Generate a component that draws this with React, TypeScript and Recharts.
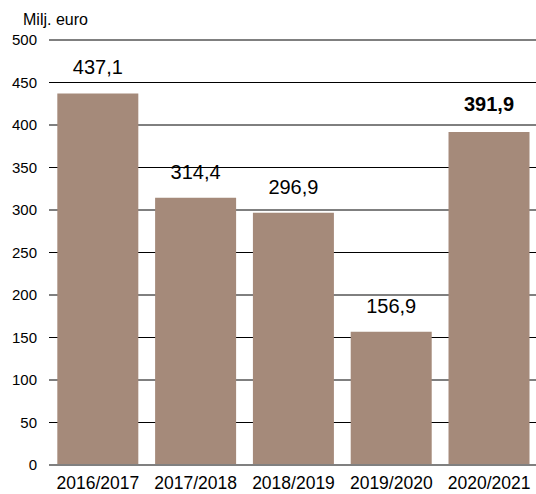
import { BarChart, Bar, XAxis, YAxis, CartesianGrid, LabelList } from 'recharts';

const seasons = ['2016/2017', '2017/2018', '2018/2019', '2019/2020', '2020/2021'];
const amounts = [437.1, 314.4, 296.9, 156.9, 391.9];
const yTicks = [0, 50, 100, 150, 200, 250, 300, 350, 400, 450, 500];

const data = seasons.map((s, i) => ({ season: s, value: amounts[i] }));

const FONT = '"Liberation Sans", Arial, sans-serif';

function ValueLabel(props: any) {
  const { x, y, width, value, index } = props;
  const last = index === amounts.length - 1;
  return (
    <text
      x={x + width / 2}
      y={y - (last ? 21 : 19)}
      textAnchor="middle"
      fontFamily={FONT}
      fontSize={20}
      fontWeight={last ? 'bold' : 'normal'}
      fill="#000"
    >
      {Number(value).toFixed(1).replace('.', ',')}
    </text>
  );
}

export default function App() {
  return (
    <div style={{ position: 'absolute', left: 0, top: 0, width: 536, height: 494, background: '#fff' }}>
      <BarChart
        width={538}
        height={494}
        data={data}
        margin={{ top: 40, right: 0, bottom: 0, left: 0 }}
        barCategoryGap="8.5%"
      >
        <CartesianGrid vertical={false} stroke="#000" strokeDasharray="" />
        <XAxis
          dataKey="season"
          tickLine={false}
          axisLine={{ stroke: '#808080', strokeWidth: 2 }}
          height={29}
          tick={{ fill: '#000', fontSize: 17.5, fontFamily: FONT }}
          tickMargin={6}
          interval={0}
        />
        <YAxis
          domain={[0, 500]}
          ticks={yTicks}
          width={49}
          tickLine={false}
          axisLine={false}
          tick={{ fill: '#000', fontSize: 15, fontFamily: FONT }}
          tickMargin={6}
          interval={0}
        />
        <Bar dataKey="value" fill="#A58A7A" isAnimationActive={false}>
          <LabelList dataKey="value" content={ValueLabel} />
        </Bar>
      </BarChart>
      <svg width={536} height={40} style={{ position: 'absolute', left: 0, top: 0, pointerEvents: 'none' }}>
        <text x={23} y={25} fontFamily={FONT} fontSize={16} fill="#000">
          Milj. euro
        </text>
      </svg>
    </div>
  );
}
